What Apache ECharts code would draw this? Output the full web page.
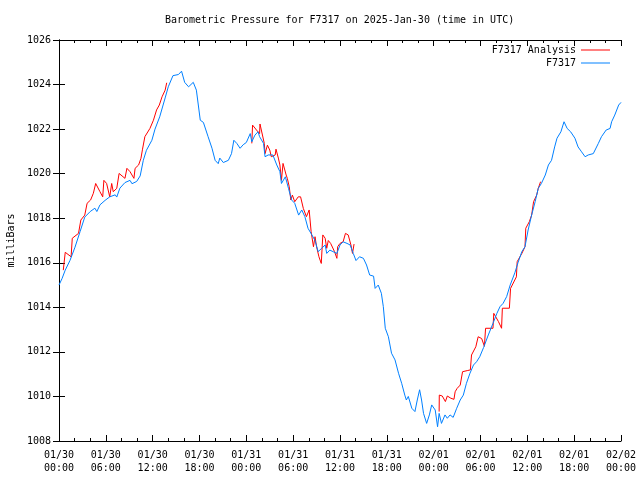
<!DOCTYPE html>
<html>
<head>
<meta charset="utf-8">
<script src="https://cdn.jsdelivr.net/npm/echarts@6/dist/echarts.min.js"></script>
<style>html,body{margin:0;padding:0;background:#fff;}#c{width:640px;height:480px;}</style>
</head>
<body>
<div id="c"></div>
<script>
// Hours since 2025-01-30 00:00 UTC
const tickLabels = ['01/30\n00:00','01/30\n06:00','01/30\n12:00','01/30\n18:00','01/31\n00:00','01/31\n06:00','01/31\n12:00','01/31\n18:00','02/01\n00:00','02/01\n06:00','02/01\n12:00','02/01\n18:00','02/02\n00:00'];

const blueHours = [0.0,0.4,0.8,1.4,2.05,2.7,3.3,4.0,4.6,4.85,5.25,5.9,6.5,7.2,7.4,7.8,8.45,9.1,9.35,9.95,10.4,10.8,11.2,11.9,12.3,12.9,13.6,14.0,14.6,15.3,15.7,16.1,16.6,17.2,17.6,18.1,18.5,19.1,19.6,20.0,20.4,20.6,21.05,21.7,22.1,22.4,22.8,23.2,23.6,24.0,24.5,24.7,25.1,25.5,25.7,26.2,26.4,26.8,27.4,27.9,28.3,28.5,29.0,29.4,29.8,30.2,30.7,31.1,31.5,31.9,32.4,32.8,33.2,33.65,34.1,34.3,34.7,35.1,35.6,36.0,36.4,36.9,37.3,37.7,38.05,38.5,39.0,39.4,39.8,40.3,40.5,40.9,41.3,41.55,41.8,42.2,42.6,43.05,43.5,43.9,44.3,44.5,44.75,45.2,45.6,45.9,46.2,46.45,46.7,47.1,47.45,47.75,48.2,48.5,48.7,49.0,49.45,49.75,50.1,50.5,50.95,51.4,51.8,52.2,52.65,53.1,53.5,53.9,54.4,55.0,55.6,56.1,56.5,56.9,57.35,57.8,58.4,58.8,59.3,59.7,60.1,60.55,61.0,61.4,61.8,62.3,62.7,63.1,63.5,63.8,64.3,64.7,65.1,65.55,66.1,66.5,66.95,67.4,67.8,68.45,69.1,69.5,70.1,70.6,70.8,71.2,71.7,72.0];
const bluePressure = [1015.0,1015.3,1015.67,1016.1,1016.7,1017.4,1018.05,1018.3,1018.45,1018.3,1018.6,1018.8,1018.96,1019.05,1018.95,1019.35,1019.6,1019.7,1019.55,1019.65,1019.9,1020.6,1021.05,1021.5,1022.0,1022.55,1023.4,1023.9,1024.4,1024.45,1024.6,1024.1,1023.9,1024.1,1023.75,1022.4,1022.3,1021.66,1021.14,1020.6,1020.45,1020.7,1020.5,1020.6,1020.9,1021.5,1021.35,1021.14,1021.3,1021.4,1021.8,1021.43,1021.73,1021.88,1021.66,1021.36,1020.76,1020.84,1020.84,1020.39,1020.09,1019.56,1019.86,1019.34,1018.82,1018.67,1018.14,1018.37,1018.07,1017.55,1017.25,1017.0,1016.5,1016.65,1016.8,1016.42,1016.57,1016.5,1016.42,1016.8,1016.94,1016.87,1016.8,1016.42,1016.1,1016.27,1016.2,1015.9,1015.45,1015.4,1014.85,1015.0,1014.63,1014.03,1013.06,1012.68,1011.94,1011.64,1011.04,1010.59,1010.06,1009.84,1010.0,1009.47,1009.32,1009.84,1010.3,1009.84,1009.24,1008.79,1009.17,1009.62,1009.39,1008.64,1009.24,1008.79,1009.17,1009.02,1009.17,1009.06,1009.47,1009.84,1010.06,1010.59,1011.04,1011.41,1011.56,1011.78,1012.2,1012.76,1013.28,1013.73,1014.03,1014.18,1014.48,1015.0,1015.55,1016.0,1016.5,1016.72,1017.47,1018.14,1018.74,1019.34,1019.56,1019.94,1020.39,1020.6,1021.2,1021.59,1021.88,1022.33,1022.03,1021.88,1021.59,1021.2,1020.98,1020.76,1020.84,1020.9,1021.36,1021.66,1021.96,1022.03,1022.33,1022.63,1023.08,1023.2];

// null entries separate the three analysis segments
const redHours = [0.55,0.8,1.55,1.65,1.7,2.5,2.8,3.3,3.6,4.05,4.4,4.7,5.25,5.6,5.75,6.1,6.5,6.75,6.95,7.4,7.7,8.45,8.7,9.1,9.6,9.75,10.2,10.5,10.7,11.0,11.65,12.1,12.5,12.85,13.2,13.6,13.8,
  null,
  24.7,24.8,25.3,25.7,25.75,25.95,26.3,26.4,26.7,27.0,27.2,27.7,27.8,28.1,28.3,28.5,28.7,29.1,29.25,29.5,29.7,29.9,30.2,30.65,30.95,31.3,31.7,32.05,32.3,32.6,32.8,33.0,33.3,33.6,33.8,34.1,34.3,34.5,34.8,35.0,35.3,35.6,35.7,36.0,36.4,36.7,37.05,37.4,37.6,37.8,
  null,
  48.7,48.72,49.1,49.5,49.75,50.2,50.6,50.75,51.0,51.4,51.7,52.3,52.7,52.85,53.4,53.7,54.15,54.5,54.65,55.6,55.7,55.9,56.3,56.7,56.8,57.7,57.85,58.6,58.7,59.3,59.7,59.8,60.25,60.55,60.8,61.2,61.4,61.7];
const redPressure = [1015.67,1016.47,1016.27,1016.2,1017.1,1017.32,1017.92,1018.14,1018.67,1018.82,1019.12,1019.56,1019.19,1018.96,1019.7,1019.56,1018.96,1019.56,1019.19,1019.34,1020.01,1019.79,1020.24,1020.09,1019.79,1020.24,1020.39,1020.69,1021.1,1021.66,1022.03,1022.4,1022.86,1023.08,1023.45,1023.75,1024.08,
  null,
  1021.36,1022.18,1021.96,1021.8,1022.23,1022.23,1021.36,1020.9,1021.28,1021.06,1020.76,1020.84,1021.1,1020.7,1020.39,1019.7,1020.46,1019.94,1019.79,1019.41,1018.82,1019.04,1018.74,1018.96,1018.96,1018.44,1018.07,1018.37,1017.4,1016.72,1017.17,1016.72,1016.27,1015.97,1017.25,1017.1,1016.65,1017.0,1016.87,1016.87,1016.5,1016.2,1016.72,1016.87,1016.94,1017.32,1017.25,1016.8,1016.42,1016.84,
  null,
  1009.32,1010.06,1010.02,1009.77,1010.02,1009.92,1009.87,1010.21,1010.36,1010.51,1011.11,1011.16,1011.19,1011.86,1012.23,1012.68,1012.6,1012.25,1013.06,1013.06,1013.73,1013.73,1013.36,1013.06,1013.96,1013.96,1014.85,1015.37,1016.05,1016.42,1016.72,1017.55,1017.84,1018.14,1018.74,1019.04,1019.34,1019.64];

const seriesNames = ['F7317 Analysis', 'F7317'];
const titleText = 'Barometric Pressure for F7317 on 2025-Jan-30 (time in UTC)';
const yName = 'milliBars';

const FONT = 'DejaVu Sans Mono';
const blueData = blueHours.map((h, i) => [h, bluePressure[i]]);
const redData = redHours.map((h, i) => (h === null ? ['-', '-'] : [h, redPressure[i]]));

const chart = echarts.init(document.getElementById('c'), null, {renderer: 'canvas'});
const lineAxis = {show: true, lineStyle: {color: '#000', width: 1}};
const legendBase = {right: 30, itemWidth: 29, itemHeight: 1, icon: 'rect', itemGap: 0, padding: 0,
  textStyle: {fontFamily: FONT, fontSize: 10, color: '#000'}, align: 'right', selectedMode: false};
chart.setOption({
  animation: false,
  backgroundColor: '#fff',
  title: {
    text: titleText, left: 160, top: 10,
    textStyle: {fontFamily: FONT, fontSize: 10, fontWeight: 'normal', color: '#000'}
  },
  legend: [
    Object.assign({data: [seriesNames[0]], top: 45}, legendBase),
    Object.assign({data: [seriesNames[1]], top: 58}, legendBase)
  ],
  grid: {left: 59, right: 19, top: 40, bottom: 39, containLabel: false, outerBoundsMode: 'none'},
  xAxis: [
    {type: 'value', min: 0, max: 72, interval: 6, position: 'bottom',
     axisLine: lineAxis, splitLine: {show: false},
     axisTick: {show: true, inside: true, length: 6, lineStyle: {color: '#000'}},
     minorTick: {show: true, splitNumber: 3, length: 3, lineStyle: {color: '#000'}},
     axisLabel: {fontFamily: FONT, fontSize: 10, color: '#000', margin: 8, lineHeight: 13,
       formatter: v => tickLabels[Math.round(v / 6)] || ''}},
    {type: 'value', min: 0, max: 72, interval: 6, position: 'top',
     axisLine: lineAxis, splitLine: {show: false},
     axisTick: {show: true, inside: true, length: 6, lineStyle: {color: '#000'}},
     minorTick: {show: true, splitNumber: 3, length: 3, lineStyle: {color: '#000'}},
     axisLabel: {show: false}}
  ],
  yAxis: [
    {type: 'value', min: 1008, max: 1026, interval: 2, position: 'left',
     name: yName, nameLocation: 'middle', nameGap: 42, nameRotate: 90,
     nameTextStyle: {fontFamily: FONT, fontSize: 10, color: '#000'},
     axisLine: lineAxis, splitLine: {show: false},
     axisTick: {show: true, inside: true, length: 6, lineStyle: {color: '#000'}},
     axisLabel: {fontFamily: FONT, fontSize: 10, color: '#000', margin: 8, formatter: v => String(v)}},
    {type: 'value', min: 1008, max: 1026, interval: 2, position: 'right',
     axisLine: lineAxis, splitLine: {show: false},
     axisTick: {show: true, inside: true, length: 6, lineStyle: {color: '#000'}},
     axisLabel: {show: false}}
  ],
  series: [
    {name: seriesNames[0], type: 'line', data: redData, xAxisIndex: 0, yAxisIndex: 0,
     showSymbol: false, symbol: 'none', connectNulls: false,
     lineStyle: {color: '#ff0000', width: 1}, itemStyle: {color: '#ff0000'}},
    {name: seriesNames[1], type: 'line', data: blueData, xAxisIndex: 0, yAxisIndex: 0,
     showSymbol: false, symbol: 'none',
     lineStyle: {color: '#0080ff', width: 1}, itemStyle: {color: '#0080ff'}}
  ]
});
</script>
</body>
</html>
